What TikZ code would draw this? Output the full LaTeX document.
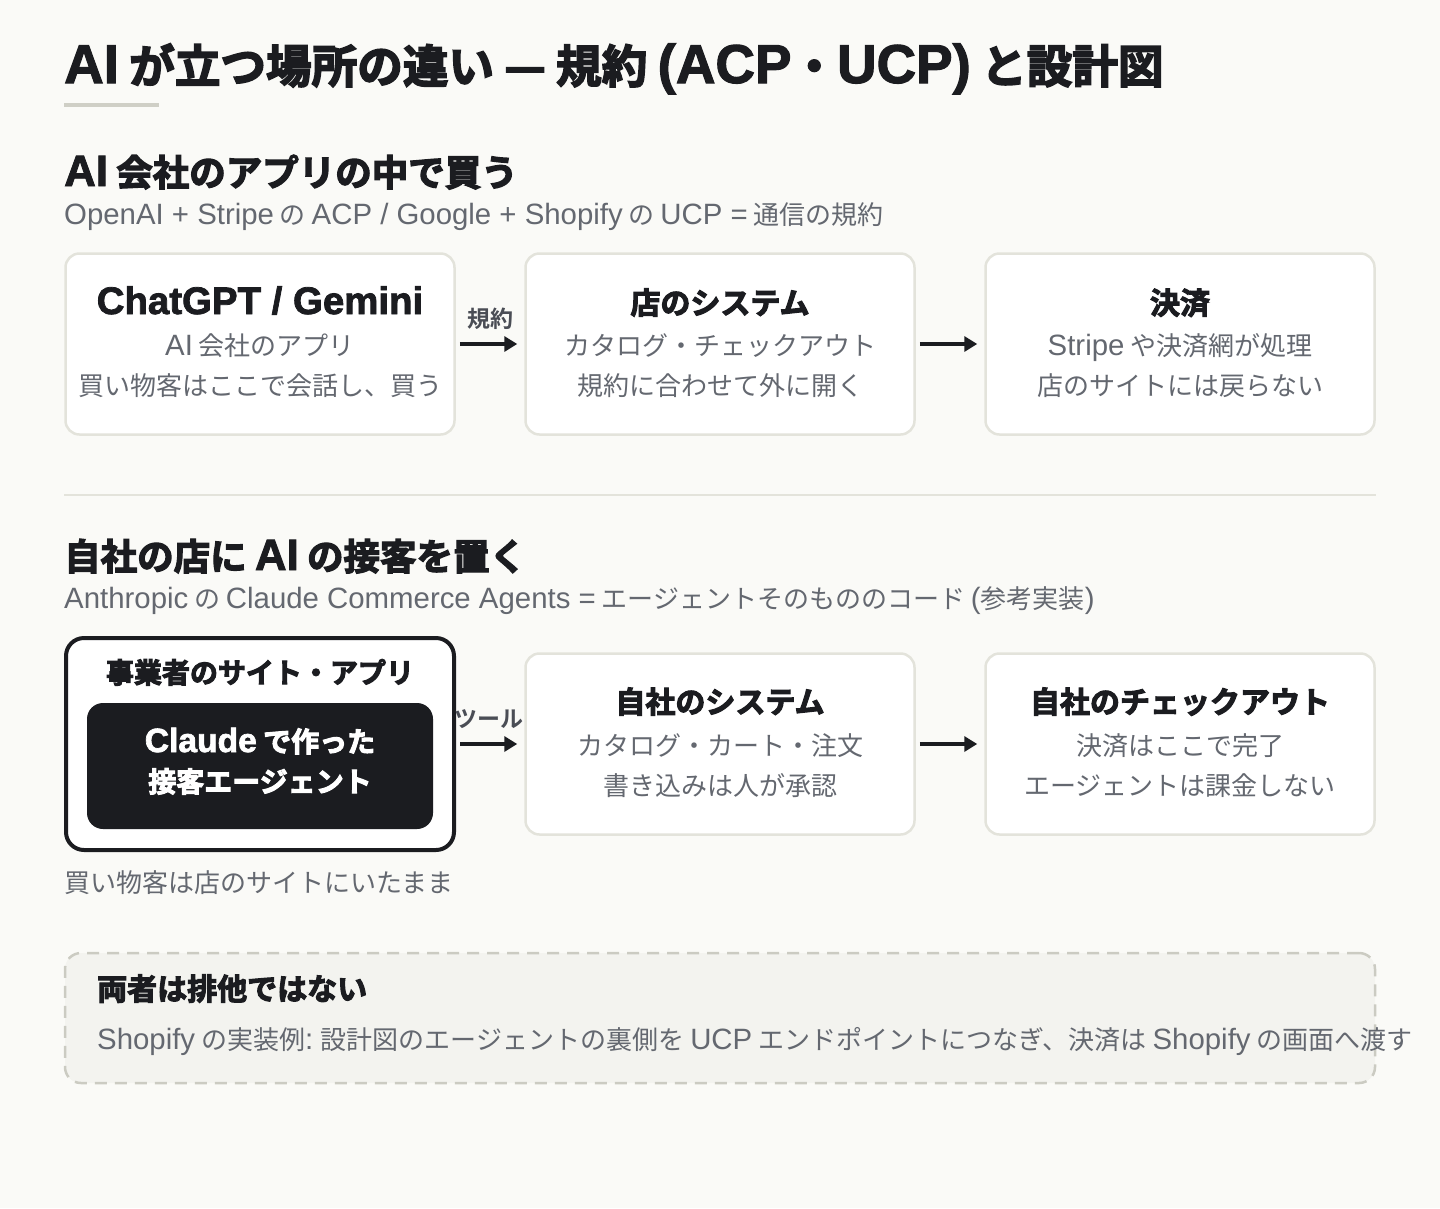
\documentclass[tikz,border=0pt]{standalone}
\usepackage{fontspec}
\setmainfont{Noto Sans CJK JP}[BoldFont={* Bold}]
\newfontfamily\heavy{Noto Sans CJK JP}[UprightFont={* Bold},FakeBold=3.5]
\newfontfamily\latnfont{Liberation Sans}[Scale=1.13]
\newfontfamily\latbfont{Liberation Sans}[UprightFont={* Bold},FakeBold=2,Scale=1.2]
\newcommand\latn[1]{{\latnfont #1}}
\newcommand\latb[1]{{\latbfont #1}}
\usetikzlibrary{arrows.meta}
\definecolor{bg}{HTML}{FAFAF7}
\definecolor{ink}{HTML}{1B1C20}
\definecolor{graytext}{HTML}{646870}
\definecolor{labeltext}{HTML}{4A4D55}
\definecolor{cardline}{HTML}{E3E3DB}
\definecolor{dashline}{HTML}{CBCBC2}
\definecolor{notefill}{HTML}{F3F3EF}
\definecolor{rulecol}{HTML}{CFCFC6}
\begin{document}
\begin{tikzpicture}[x=1pt,y=-1pt,
  card/.style={draw=cardline,line width=2.5pt,fill=white,rounded corners=14pt,
    minimum width=389pt,minimum height=181pt,inner sep=0pt},
  ttl/.style={font=\heavy\fontsize{30}{30}\selectfont,text=ink,anchor=base,inner sep=0pt},
  sub/.style={font=\fontsize{26}{26}\selectfont,text=graytext,anchor=base,inner sep=0pt},
  lefttext/.style={anchor=base west,inner sep=0pt},
  flow/.style={line width=4pt,draw=ink,-{Triangle[length=13pt,width=15pt]}},
  arrowlabel/.style={font=\bfseries\fontsize{23}{23}\selectfont,text=labeltext,anchor=base,inner sep=0pt}]
\path[use as bounding box,fill=bg] (0,0) rectangle (1440,1208);

% title
\node[lefttext,font=\heavy\fontsize{45.6}{45.6}\selectfont,text=ink] (title) at (64,83)
  {\latb{AI} が立つ場所の違い — 規約 \latb{(ACP}・\latb{UCP)} と設計図};
\node[fill=rulecol,minimum width=95pt,minimum height=4pt,inner sep=0pt,anchor=west] (uline) at (64,105) {};

% section 1
\node[lefttext,font=\heavy\fontsize{36.5}{36.5}\selectfont,text=ink] (h1) at (64,186)
  {\latb{AI} 会社のアプリの中で買う};
\node[lefttext,font=\fontsize{26}{26}\selectfont,text=graytext] (s1) at (64,224)
  {\latn{OpenAI + Stripe} の \latn{ACP / Google + Shopify} の \latn{UCP =} 通信の規約};

\node[card] (c1) at (260,344) {};
\node[card] (c2) at (720,344) {};
\node[card] (c3) at (1180,344) {};

\node[ttl,font=\heavy\fontsize{32}{32}\selectfont] (c1t) at (260,314) {\latb{ChatGPT / Gemini}};
\node[sub] (c1a) at (260,355) {\latn{AI} 会社のアプリ};
\node[sub] (c1b) at (260,395) {買い物客はここで会話し、買う};

\node[ttl] (c2t) at (720,314) {店のシステム};
\node[sub] (c2a) at (720,355) {カタログ・チェックアウト};
\node[sub] (c2b) at (720,395) {規約に合わせて外に開く};

\node[ttl] (c3t) at (1180,314) {決済};
\node[sub] (c3a) at (1180,355) {\latn{Stripe} や決済網が処理};
\node[sub] (c3b) at (1180,395) {店のサイトには戻らない};

\draw[flow,shorten <=4pt,shorten >=7pt] (c1.east) -- (c2.west);
\draw[flow,shorten <=4pt,shorten >=7pt] (c2.east) -- (c3.west);
\node[arrowlabel] (l1) at (490,327) {規約};

% separator
\coordinate (sepL) at (64,495);
\coordinate (sepR) at (1376,495);
\draw[draw=cardline,line width=2pt] (sepL) -- (sepR);

% section 2
\node[lefttext,font=\heavy\fontsize{36.5}{36.5}\selectfont,text=ink] (h2) at (64,570)
  {自社の店に \latb{AI} の接客を置く};
\node[lefttext,font=\fontsize{26}{26}\selectfont,text=graytext] (s2) at (64,608)
  {\latn{Anthropic} の \latn{Claude Commerce Agents =} エージェントそのもののコード \latn{(}参考実装\latn{)}};

\node[draw=ink,line width=4pt,fill=white,rounded corners=18pt,minimum width=388pt,
  minimum height=212pt,inner sep=0pt] (a) at (260,744) {};
\node[ttl,font=\heavy\fontsize{28}{28}\selectfont] (at) at (260,683) {事業者のサイト・アプリ};
\node[fill=ink,rounded corners=16pt,minimum width=346pt,minimum height=126pt,inner sep=0pt] (agent) at (260,766) {};
\node[ttl,font=\heavy\fontsize{28}{28}\selectfont,text=white] (ag1) at (260,752) {\latb{Claude} で作った};
\node[ttl,font=\heavy\fontsize{28}{28}\selectfont,text=white] (ag2) at (260,792) {接客エージェント};
\node[lefttext,font=\fontsize{26}{26}\selectfont,text=graytext] (anote) at (64,892) {買い物客は店のサイトにいたまま};

\node[card] (b) at (720,744) {};
\node[card] (c) at (1180,744) {};

\node[ttl] (bt) at (720,713) {自社のシステム};
\node[sub] (ba) at (720,755) {カタログ・カート・注文};
\node[sub] (bb) at (720,795) {書き込みは人が承認};

\node[ttl] (ct) at (1180,713) {自社のチェックアウト};
\node[sub] (ca) at (1180,755) {決済はここで完了};
\node[sub] (cb) at (1180,795) {エージェントは課金しない};

\draw[flow,shorten <=4pt,shorten >=7pt] (a.east) -- (b.west);
\draw[flow,shorten <=4pt,shorten >=7pt] (b.east) -- (c.west);
\node[arrowlabel] (l2) at (489,727) {ツール};

% note
\node[draw=dashline,dash pattern=on 12pt off 8pt,line width=2.5pt,fill=notefill,
  rounded corners=16pt,minimum width=1310pt,minimum height=130pt,inner sep=0pt] (note) at (720,1018) {};
\node[lefttext,font=\heavy\fontsize{30}{30}\selectfont,text=ink] (nt) at (97,1000) {両者は排他ではない};
\node[lefttext,font=\fontsize{26}{26}\selectfont,text=graytext] (nx) at (97,1049)
  {\latn{Shopify} の実装例\latn{:} 設計図のエージェントの裏側を \latn{UCP} エンドポイントにつなぎ、決済は \latn{Shopify} の画面へ渡す};
\end{tikzpicture}
\end{document}
